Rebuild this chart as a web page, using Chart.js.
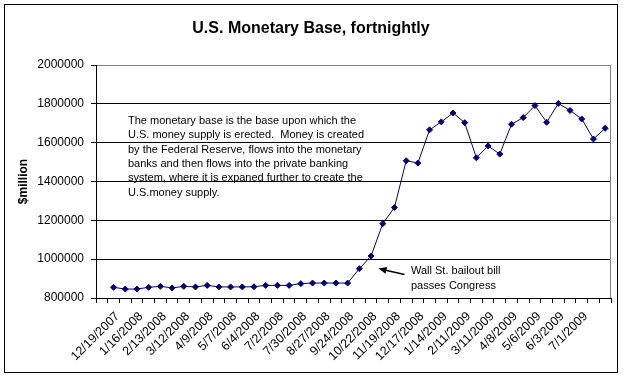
<!DOCTYPE html>
<html><head><meta charset="utf-8">
<script src="https://cdn.jsdelivr.net/npm/chart.js@4"></script>
<style>html,body{margin:0;padding:0;background:#fff}#wrap{width:624px;height:378px;position:relative}</style>
</head><body><div id="wrap"><canvas id="c" width="624" height="378"></canvas></div>
<script>
const categories = ['', '12/19/2007', '1/2/2008', '1/16/2008', '1/30/2008', '2/13/2008', '2/27/2008', '3/12/2008', '3/26/2008', '4/9/2008', '4/23/2008', '5/7/2008', '5/21/2008', '6/4/2008', '6/18/2008', '7/2/2008', '7/16/2008', '7/30/2008', '8/13/2008', '8/27/2008', '9/10/2008', '9/24/2008', '10/8/2008', '10/22/2008', '11/5/2008', '11/19/2008', '12/3/2008', '12/17/2008', '12/31/2008', '1/14/2009', '1/28/2009', '2/11/2009', '2/25/2009', '3/11/2009', '3/25/2009', '4/8/2009', '4/22/2009', '5/6/2009', '5/20/2009', '6/3/2009', '6/17/2009', '7/1/2009', '7/15/2009', '7/29/2009'];
const tickLabels = ['12/19/2007', '1/16/2008', '2/13/2008', '3/12/2008', '4/9/2008', '5/7/2008', '6/4/2008', '7/2/2008', '7/30/2008', '8/27/2008', '9/24/2008', '10/22/2008', '11/19/2008', '12/17/2008', '1/14/2009', '2/11/2009', '3/11/2009', '4/8/2009', '5/6/2009', '6/3/2009', '7/1/2009'];
const monetaryBase = [null, 855000, 846000, 846000, 855000, 860000, 852000, 860000, 857000, 865000, 857000, 857000, 857000, 858000, 865000, 865000, 865000, 874000, 877000, 877000, 877000, 877000, 951000, 1016000, 1183000, 1266000, 1507000, 1495000, 1666000, 1707000, 1753000, 1703000, 1522000, 1583000, 1541000, 1695000, 1729000, 1791000, 1705000, 1802000, 1766000, 1722000, 1619000, 1674000];
const yMin = 800000;
const yMax = 2000000;
const yStep = 200000;
const titleText = 'U.S. Monetary Base, fortnightly';
const yAxisTitle = '$million';
const noteLines = ['The monetary base is the base upon which the', 'U.S. money supply is erected.  Money is created', 'by the Federal Reserve, flows into the monetary', 'banks and then flows into the private banking', 'system, where it is expaned further to create the', 'U.S.money supply.'];
const calloutLines = ['Wall St. bailout bill', 'passes Congress'];

const FONT = 'Arial, "Liberation Sans", sans-serif';

const decor = {
  id: 'decor',
  afterDraw(chart) {
    const ctx = chart.ctx;
    const ca = chart.chartArea;
    ctx.save();
    // outer border
    ctx.strokeStyle = '#000';
    ctx.lineWidth = 1;
    ctx.strokeRect(4.5, 4.5, 613, 368);
    // plot area right border
    ctx.strokeStyle = '#808080';
    ctx.beginPath();
    const rx = Math.round(ca.right) - 0.5;
    ctx.moveTo(rx, ca.top);
    ctx.lineTo(rx, ca.bottom);
    ctx.stroke();
    // title
    ctx.fillStyle = '#000';
    ctx.font = 'bold 16px ' + FONT;
    ctx.textAlign = 'center';
    ctx.textBaseline = 'middle';
    ctx.fillText(titleText, 311, 29);
    // note text
    ctx.font = '11px ' + FONT;
    ctx.textAlign = 'left';
    noteLines.forEach((t, i) => ctx.fillText(t, 128, 121 + i * 14.3));
    // callout
    calloutLines.forEach((t, i) => ctx.fillText(t, 411, 271 + i * 15));
    // arrow
    const x0 = 404.5, y0 = 274.5, x1 = 378.5, y1 = 268.5;
    const ang = Math.atan2(y1 - y0, x1 - x0);
    ctx.strokeStyle = '#000';
    ctx.lineWidth = 1.5;
    ctx.beginPath();
    ctx.moveTo(x0, y0);
    ctx.lineTo(x1 - 4 * Math.cos(ang), y1 - 4 * Math.sin(ang));
    ctx.stroke();
    ctx.beginPath();
    ctx.moveTo(x1, y1);
    ctx.lineTo(x1 - 8 * Math.cos(ang) + 3.5 * Math.sin(ang), y1 - 8 * Math.sin(ang) - 3.5 * Math.cos(ang));
    ctx.lineTo(x1 - 8 * Math.cos(ang) - 3.5 * Math.sin(ang), y1 - 8 * Math.sin(ang) + 3.5 * Math.cos(ang));
    ctx.closePath();
    ctx.fillStyle = '#000';
    ctx.fill();
    ctx.restore();
  }
};

new Chart(document.getElementById('c'), {
  type: 'line',
  data: {
    labels: categories,
    datasets: [{
      data: monetaryBase,
      borderColor: '#000080',
      backgroundColor: '#000080',
      borderWidth: 1,
      pointStyle: 'rectRot',
      pointRadius: 3,
      pointBorderWidth: 1,
      pointBackgroundColor: '#000080',
      pointBorderColor: '#000080',
      tension: 0,
      fill: false
    }]
  },
  options: {
    responsive: false,
    animation: false,
    devicePixelRatio: 1,
    layout: { padding: { top: 65, right: 13, left: 0, bottom: 0 } },
    plugins: { legend: { display: false }, title: { display: false }, tooltip: { enabled: false } },
    scales: {
      x: {
        type: 'category',
        offset: true,
        afterFit(scale) { scale.height = 80; },
        grid: { offset: true, drawOnChartArea: false, tickLength: 5, color: '#000', lineWidth: 1 },
        border: { color: '#000', width: 1 },
        ticks: {
          autoSkip: false, minRotation: 45, maxRotation: 45, color: '#000',
          font: { family: FONT, size: 12.5 }, padding: 6, labelOffset: 4,
          callback(v, i) { const c = categories[i]; return tickLabels.includes(c) ? c : ''; }
        }
      },
      y: {
        min: yMin, max: yMax,
        afterFit(scale) { scale.width = 96; },
        grid: {
          color: (c) => (c.tick && c.tick.value === yMax) ? '#808080' : '#000',
          tickColor: '#000', tickLength: 5, lineWidth: 1
        },
        border: { color: '#000', width: 1 },
        ticks: {
          stepSize: yStep, color: '#000', padding: 7,
          font: { family: FONT, size: 12 },
          callback: (v) => String(v)
        },
        title: { display: true, text: yAxisTitle, color: '#000', font: { family: FONT, size: 12, weight: 'bold' }, padding: { top: 16, bottom: 0 } }
      }
    }
  },
  plugins: [decor]
});
</script></body></html>
